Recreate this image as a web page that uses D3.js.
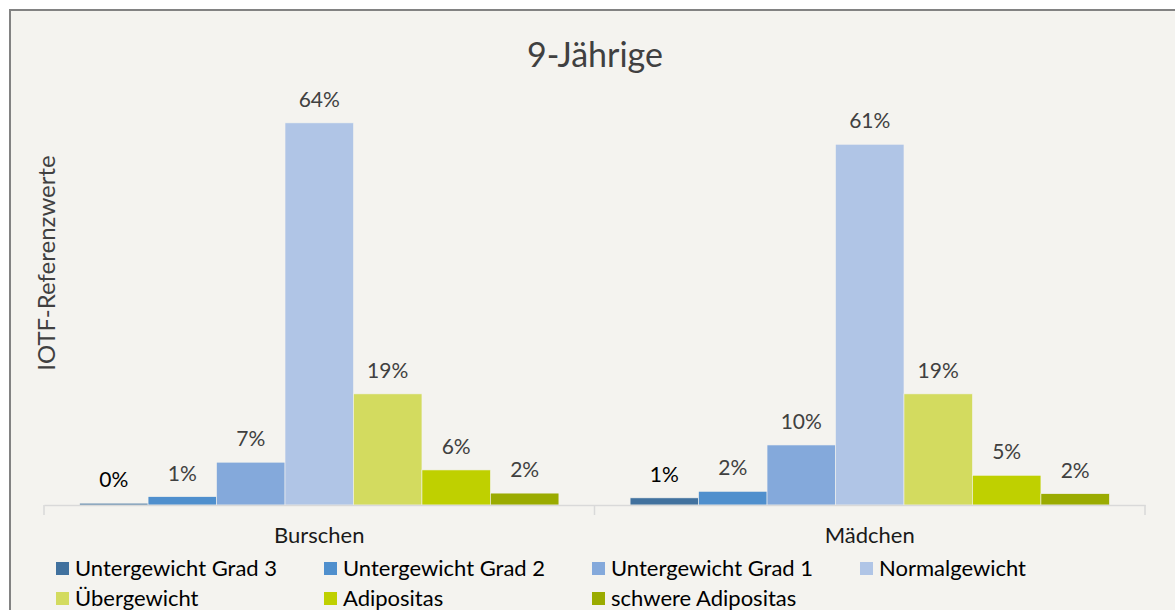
<!DOCTYPE html>
<html>
<head>
<meta charset="utf-8">
<script src="https://cdn.jsdelivr.net/npm/d3@7"></script>
<style>
  body { margin: 0; background: #fff; }
  svg { display: block; font-family: Lato, "Open Sans", sans-serif; }
</style>
</head>
<body>
<svg id="chart" width="1175" height="610"></svg>
<script>
// Data
var categories = ["Burschen", "Mädchen"];
var seriesNames = ["Untergewicht Grad 3", "Untergewicht Grad 2", "Untergewicht Grad 1",
    "Normalgewicht", "Übergewicht", "Adipositas", "schwere Adipositas"];
var burschen = [0.3, 1.4, 7.2, 64.3, 18.7, 5.9, 2.0];
var maedchen = [1.2, 2.3, 10.1, 60.7, 18.7, 5.0, 1.9];
var labelsBurschen = ["0%", "1%", "7%", "64%", "19%", "6%", "2%"];
var labelsMaedchen = ["1%", "2%", "10%", "61%", "19%", "5%", "2%"];
var colors = ["#41719e", "#4f8fcd", "#84a9db", "#b0c5e6", "#d3db5f", "#bfd000", "#9aab00"];

var svg = d3.select("#chart"),
    W = +svg.attr("width"),
    H = +svg.attr("height");

// background + frame (frame runs off right and bottom edge)
svg.append("rect").attr("width", W).attr("height", H).attr("fill", "#fff");
svg.append("rect")
    .attr("x", 10).attr("y", 10)
    .attr("width", W + 10).attr("height", H + 10)
    .attr("fill", "#f4f3ef")
    .attr("stroke", "#828282")
    .attr("stroke-width", 2);

var rows = categories.map(function (c, i) {
    var vals = i === 0 ? burschen : maedchen;
    var labs = i === 0 ? labelsBurschen : labelsMaedchen;
    return { cat: c, vals: seriesNames.map(function (s, j) {
        return { key: s, value: vals[j], label: labs[j], color: colors[j], first: j === 0 };
    }) };
});

var x0 = d3.scaleBand().domain(categories).range([44, 1145]);
var x1 = d3.scaleBand().domain(seriesNames).range([0, x0.bandwidth()]).paddingOuter(0.52);
var y = d3.scaleLinear().domain([0, 70]).range([505, 89]);

// title
svg.append("text")
    .attr("x", 595).attr("y", 67)
    .attr("text-anchor", "middle")
    .attr("font-size", 34)
    .attr("fill", "#404040")
    .text("9-Jährige");

// y axis title
svg.append("text")
    .attr("transform", "translate(55,263) rotate(-90)")
    .attr("text-anchor", "middle")
    .attr("font-size", 24)
    .attr("fill", "#404040")
    .text("IOTF-Referenzwerte");

// bars
var groups = svg.append("g").selectAll("g")
    .data(rows)
    .enter().append("g")
    .attr("transform", function (d) { return "translate(" + x0(d.cat) + ",0)"; });

groups.selectAll("rect")
    .data(function (d) { return d.vals; })
    .enter().append("rect")
    .attr("x", function (d) { return x1(d.key); })
    .attr("y", function (d) { return y(d.value); })
    .attr("width", x1.bandwidth())
    .attr("height", function (d) { return y(0) - y(d.value); })
    .attr("fill", function (d) { return d.color; })
    .attr("stroke", "#f4f3ef")
    .attr("stroke-width", 0.6);

groups.selectAll("text")
    .data(function (d) { return d.vals; })
    .enter().append("text")
    .attr("x", function (d) { return x1(d.key) + x1.bandwidth() / 2; })
    .attr("y", function (d) { return y(d.value) - 16; })
    .attr("text-anchor", "middle")
    .attr("font-size", 21)
    .attr("fill", function (d) { return d.first ? "#000" : "#404040"; })
    .text(function (d) { return d.label; });

// category axis
var xAxis = svg.append("g")
    .attr("transform", "translate(0,505)")
    .call(d3.axisBottom(x0).tickSize(0).tickPadding(22));
xAxis.select(".domain").attr("stroke", "#d9d9d9").attr("stroke-width", 1.5);
xAxis.selectAll(".tick text")
    .attr("font-size", 22)
    .attr("font-family", "Lato, 'Open Sans', sans-serif")
    .attr("fill", "#1a1a1a");

// tick marks between categories
var bounds = [44].concat(categories.map(function (c) { return x0(c) + x0.bandwidth(); }));
svg.append("g").selectAll("line")
    .data(bounds)
    .enter().append("line")
    .attr("x1", function (d) { return d; })
    .attr("x2", function (d) { return d; })
    .attr("y1", 505).attr("y2", 515)
    .attr("stroke", "#d9d9d9")
    .attr("stroke-width", 1.5);

// legend
var legend = svg.append("g").selectAll("g")
    .data(seriesNames)
    .enter().append("g")
    .attr("transform", function (d, i) {
        return "translate(" + (56 + (i % 4) * 268) + "," + (562 + Math.floor(i / 4) * 30) + ")";
    });

legend.append("rect")
    .attr("width", 13).attr("height", 13)
    .attr("fill", function (d, i) { return colors[i]; });

legend.append("text")
    .attr("x", 19).attr("y", 6.5)
    .attr("dy", "0.35em")
    .attr("font-size", 22)
    .attr("fill", "#000")
    .text(function (d) { return d; });
</script>
</body>
</html>
